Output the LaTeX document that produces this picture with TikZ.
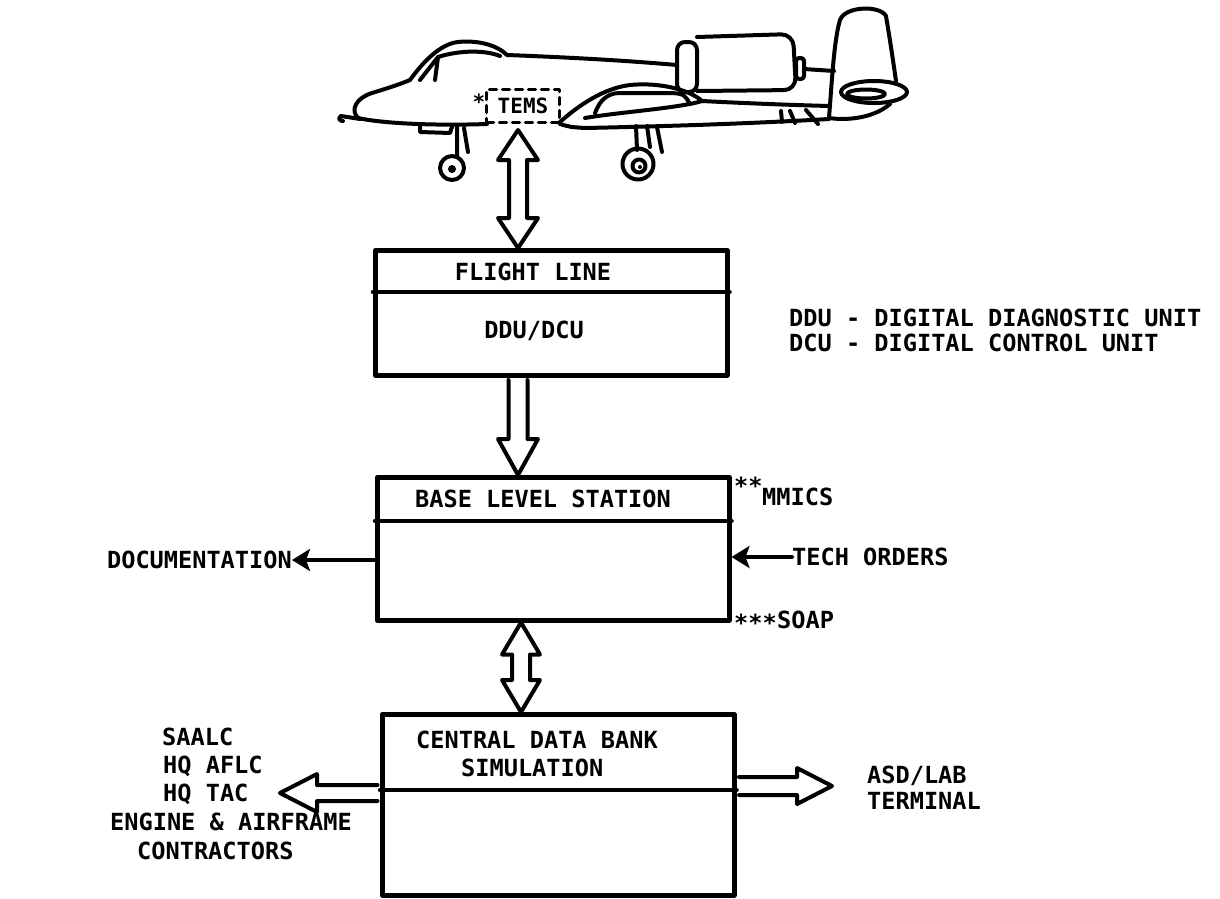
\documentclass[tikz,border=0pt]{standalone}
\usepackage{fontspec}
\newfontfamily\lblfont{DejaVu Sans Mono Bold}
\usetikzlibrary{calc,arrows.meta}
\newcommand\vfat[5]{%
 \draw[fat] (#1) -- ($(#1)+(#4,#3)$) -- ($(#1)+(#5,#3)$) -- ($(#2)+(#5,-#3)$) -- ($(#2)+(#4,-#3)$) -- (#2) -- ($(#2)+(-#4,-#3)$) -- ($(#2)+(-#5,-#3)$) -- ($(#1)+(-#5,#3)$) -- ($(#1)+(-#4,#3)$) -- cycle;}
\begin{document}
\begin{tikzpicture}[x=1pt,y=-1pt,line join=round,line cap=round,
  lab/.style={font=\lblfont\fontsize{23.6}{28}\selectfont,inner sep=0pt,text height=17pt,text depth=0pt},
  small/.style={font=\lblfont\fontsize{21}{24}\selectfont,inner sep=0pt,text height=15pt,text depth=0pt},
  boxline/.style={line width=4.5pt},
  blk/.style={draw,line width=4.5pt,rectangle,inner sep=0pt,anchor=north west},
  fat/.style={draw,line width=4pt,fill=white},
  thin/.style={line width=4pt,-{Stealth[length=18pt,width=22pt,inset=4pt]}},
  plane/.style={line width=4pt}]
\useasboundingbox (0,0) rectangle (1220,898);

% ---------------- aircraft ----------------
\draw[plane] (358,118) .. controls (350,110) and (356,98) .. (372,93) .. controls (385,89) and (398,85) .. (410,80) .. controls (423,62) and (440,44) .. (458,42) .. controls (478,40) and (497,45) .. (507,55) .. controls (560,57) and (620,60) .. (677,65);
\draw[plane] (420,80) -- (438,57) -- (435,80);
\draw[plane] (438,57) .. controls (460,50) and (485,50) .. (500,56);
\draw[plane] (358,118) .. controls (380,123) and (430,126) .. (487,124);
\draw[plane] (341,116) -- (360,119);
\draw[plane] (341,116) .. controls (338,118) and (339,121) .. (343,121);
\draw[plane] (420,126) -- (420,132) -- (450,133) -- (452,127);
\draw[plane] (560,124) .. controls (570,127) .. (585,128) .. controls (680,126) and (760,123) .. (829,119);
\draw[plane] (560,122) .. controls (580,104) and (605,88) .. (630,85) .. controls (660,82) and (690,90) .. (702,101) .. controls (680,108) and (620,112) .. (585,118);
\draw[plane] (595,113) .. controls (600,100) and (607,94) .. (618,93) -- (672,93) .. controls (684,94) .. (690,104);
\draw[plane] (702,101) .. controls (740,103) and (790,105) .. (830,106);
\draw[plane,rounded corners=8pt] (677,42) rectangle (697,92);
\draw[plane,rounded corners=12pt] (697,37) -- (793,34) -- (796,90) -- (697,91);
\draw[plane,rounded corners=3pt] (796,58) rectangle (804,79);
\draw[plane] (804,69) -- (834,71);
\draw[plane] (829,118) .. controls (832,80) and (834,40) .. (840,20) .. controls (845,6) and (880,5) .. (886,16) .. controls (890,40) and (893,60) .. (896,81);
\draw[plane] (829,118) .. controls (850,121) and (875,117) .. (890,104);
\draw[plane,fill=white] (874,92) ellipse [x radius=33, y radius=11];
\draw[plane] (866,94) ellipse [x radius=19, y radius=4.5];
\draw[plane] (781,111) -- (782,122) (790,111) -- (795,123) (806,110) -- (818,124);
\draw[plane] (457,127) -- (457,157) (464,128) -- (468,152);
\draw[plane] (452,168) circle [radius=12];
\fill (452,169) circle [radius=4];
\draw[plane] (636,126) -- (637,150) (647,126) -- (650,147) (657,127) -- (662,152);
\draw[plane] (638,164) circle [radius=15.5];
\draw[plane] (639,166) circle [radius=6.5];
\fill (640,167) circle [radius=2];
\node[small,draw,dashed,line width=3.5pt,dash pattern=on 7pt off 6pt,minimum width=73pt,minimum height=33pt] (tems) at (523,106) {TEMS};
\node[small] (star1) at (479,102) {*};

% ---------------- boxes ----------------
\node[blk,minimum width=352pt,minimum height=125pt] (fl) at (373,248) {};
\node[blk,minimum width=352pt,minimum height=143pt] (bl) at (375,475) {};
\node[blk,minimum width=352pt,minimum height=181pt] (cd) at (380,712) {};
\draw[boxline] (fl.west |- 0,292) -- (fl.east |- 0,292);
\draw[boxline] (bl.west |- 0,521) -- (bl.east |- 0,521);
\draw[boxline] (cd.west |- 0,790) -- (cd.east |- 0,790);

% ---------------- texts ----------------
\node[lab] (flt) at (533,272) {FLIGHT LINE};
\node[lab] (ddu) at (534,330) {DDU/DCU};
\node[lab] (blt) at (543,499) {BASE LEVEL STATION};
\node[lab,anchor=west] (cdt1) at (416,740) {CENTRAL DATA BANK};
\node[lab,anchor=west] (cdt2) at (461,768) {SIMULATION};
\node[lab,anchor=west] (leg1) at (789,318) {DDU - DIGITAL DIAGNOSTIC UNIT};
\node[lab,anchor=west] (leg2) at (789,343) {DCU - DIGITAL CONTROL UNIT};
\node[lab,anchor=west] (mms) at (734,486) {**};
\node[lab,anchor=west] (mm) at (762,497) {MMICS};
\node[lab,anchor=west] (sps) at (734,623) {***};
\node[lab,anchor=west] (soap) at (777,620) {SOAP};
\node[lab,anchor=west] (tech) at (792,557) {TECH ORDERS};
\node[lab,anchor=east] (doc) at (292,560) {DOCUMENTATION};
\node[lab,anchor=west] (l1) at (162,737) {SAALC};
\node[lab,anchor=west] (l2) at (163,765) {HQ AFLC};
\node[lab,anchor=west] (l3) at (163,793) {HQ TAC};
\node[lab,anchor=west] (l4) at (110,822) {ENGINE \& AIRFRAME};
\node[lab,anchor=west] (l5) at (137,851) {CONTRACTORS};
\node[lab,anchor=west] (r1) at (867,775) {ASD/LAB};
\node[lab,anchor=west] (r2) at (867,801) {TERMINAL};

% ---------------- connectors ----------------
\coordinate (a1) at (518,130);
\coordinate (a2) at (a1 |- fl.north);
\vfat{a1}{a2}{30}{20}{9}
\coordinate (b1) at ($(fl.south west)+(145,0)$);
\coordinate (b2) at (b1 |- bl.north);
\draw[fat] ($(b1)+(-9.5,2.5)$) -- ($(b2)+(-9.5,-36)$) -- ($(b2)+(-20,-36)$) -- (b2) -- ($(b2)+(20,-36)$) -- ($(b2)+(9.5,-36)$) -- ($(b1)+(9.5,2.5)$);
\coordinate (c1) at ($(bl.south west)+(146,0)$);
\coordinate (c2) at (c1 |- cd.north);
\vfat{c1}{c2}{32}{19}{9}
\coordinate (d1) at (cd.west |- 0,793);
\coordinate (d2) at (280,793);
\draw[fat] ($(d1)+(-2.5,-8)$) -- ($(d2)+(37,-8)$) -- ($(d2)+(37,-19)$) -- (d2) -- ($(d2)+(37,19)$) -- ($(d2)+(37,8)$) -- ($(d1)+(-2.5,8)$);
\coordinate (e1) at (cd.east |- 0,786);
\coordinate (e2) at (832,786);
\draw[fat] ($(e1)+(2.5,-9)$) -- ($(e2)+(-35,-9)$) -- ($(e2)+(-35,-18)$) -- (e2) -- ($(e2)+(-35,18)$) -- ($(e2)+(-35,9)$) -- ($(e1)+(2.5,9)$);
\draw[thin] (bl.west |- doc.east) -- (doc.east);
\draw[thin] (tech.west) -- (bl.east |- tech.west);
\end{tikzpicture}
\end{document}
